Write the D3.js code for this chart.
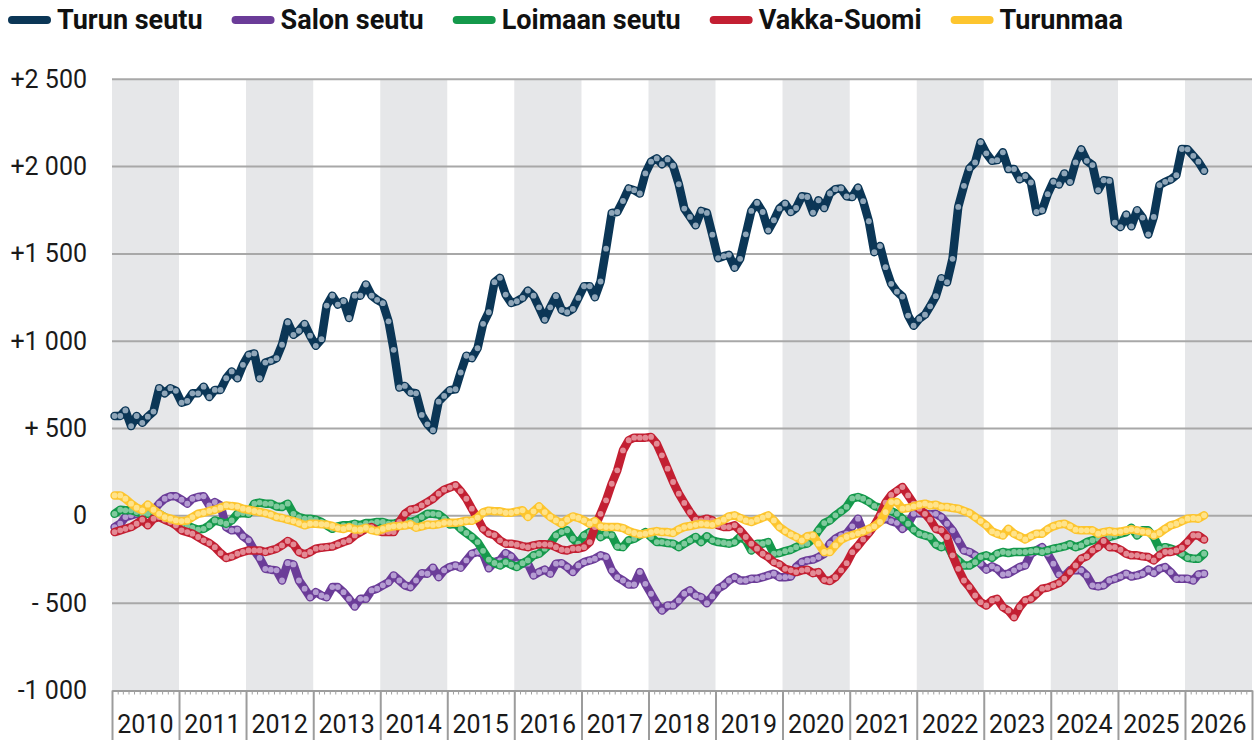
<!DOCTYPE html>
<html>
<head>
  <meta charset="UTF-8">
  <title>Väestönmuutos seuduittain</title>
  <style>
    body { margin: 0; background: #fff; }
    svg { display: block; font-family: Roboto, 'Noto Sans', sans-serif; }
  </style>
</head>
<body>
  <script src="https://cdn.jsdelivr.net/npm/d3@7"></script>
  <script>
    const width = 1258,
      height = 740

    // tick labels
    const yearLabels = ['2010', '2011', '2012', '2013', '2014', '2015', '2016', '2017', '2018',
      '2019', '2020', '2021', '2022', '2023', '2024', '2025', '2026']
    const yTicks = [-1000, -500, 0, 500, 1000, 1500, 2000, 2500]
    const yTickLabels = ['-1 000', '- 500', '0', '+ 500', '+1 000', '+1 500', '+2 000', '+2 500']

    // monthly values, 2010-01 .. 2026-04
    const turunSeutu = [
      572, 572, 604, 514, 572, 533, 568, 597, 731, 702, 731, 716,
      648, 658, 702, 702, 740, 681, 721, 721, 788, 827, 788, 865,
      922, 930, 788, 878, 888, 903, 980, 1108, 1037, 1060, 1099, 1032,
      974, 1012, 1204, 1261, 1210, 1229, 1133, 1261, 1261, 1325, 1261, 1237,
      1218, 1114, 951, 735, 744, 706, 702, 578, 524, 491, 654, 687,
      720, 725, 821, 917, 903, 960, 1100, 1166, 1338, 1363, 1267, 1219,
      1229, 1248, 1290, 1261, 1194, 1124, 1194, 1258, 1179, 1166, 1185, 1248,
      1315, 1315, 1252, 1342, 1530, 1735, 1740, 1803, 1875, 1865, 1846, 1961,
      2028, 2047, 2014, 2041, 2005, 1899, 1760, 1712, 1664, 1746, 1735, 1610,
      1476, 1487, 1495, 1421, 1472, 1612, 1746, 1792, 1740, 1635, 1693, 1760,
      1788, 1740, 1763, 1830, 1826, 1737, 1807, 1763, 1846, 1871, 1875, 1830,
      1826, 1880, 1802, 1687, 1510, 1545, 1424, 1329, 1284, 1256, 1147, 1089,
      1128, 1152, 1200, 1258, 1361, 1338, 1472, 1769, 1890, 1990, 2024, 2139,
      2076, 2033, 2037, 2082, 1986, 1986, 1928, 1945, 1909, 1740, 1750, 1842,
      1913, 1898, 1961, 1913, 2024, 2099, 2033, 2009, 1865, 1922, 1918, 1679,
      1654, 1725, 1658, 1750, 1708, 1612, 1712, 1894, 1913, 1926, 1951, 2101,
      2099, 2062, 2028, 1976
    ]
    const salonSeutu = [
      -64, -45, -7, 3, 12, 12, 22, 32, 70, 98, 112, 112,
      93, 70, 98, 108, 112, 60, 79, 60, -64, -83, -79, -117,
      -140, -198, -241, -303, -308, -312, -370, -271, -278, -370, -417, -466,
      -437, -456, -466, -408, -408, -437, -475, -519, -475, -475, -427, -417,
      -398, -380, -341, -370, -398, -408, -370, -328, -331, -297, -351, -312,
      -293, -284, -297, -255, -217, -207, -217, -300, -265, -255, -213, -232,
      -274, -271, -274, -341, -322, -308, -331, -274, -271, -293, -322, -284,
      -265, -255, -245, -226, -236, -312, -351, -370, -393, -393, -322, -389,
      -446, -503, -542, -513, -513, -484, -446, -427, -456, -466, -500, -461,
      -417, -398, -370, -351, -370, -370, -360, -360, -351, -341, -331, -351,
      -351, -347, -293, -265, -255, -250, -236, -217, -159, -131, -112, -102,
      -60, -16, -90, -95, -55, -30, -15, -30, -40, -74, -45, 12,
      16, 12, 8, 12, -7, -45, -83, -140, -198, -207, -226, -274,
      -308, -289, -303, -335, -331, -312, -293, -284, -217, -198, -179, -217,
      -274, -335, -347, -312, -312, -312, -341, -398, -404, -398, -370, -360,
      -347, -331, -347, -341, -331, -308, -327, -303, -293, -322, -360, -360,
      -360, -370, -335, -331
    ]
    const loimaanSeutu = [
      12, 35, 32, 32, 22, 12, 12, 22, 12, -7, -35, -45,
      -49, -54, -68, -79, -74, -54, -26, -35, -45, -26, 12, 16,
      12, 70, 76, 70, 70, 54, 51, 70, 12, -7, -16, -16,
      -22, -35, -54, -74, -60, -54, -54, -45, -54, -41, -41, -35,
      -35, -45, -45, -35, -26, -35, -26, -7, 12, 12, 8, -16,
      -49, -45, -74, -98, -121, -150, -200, -250, -270, -284, -265, -280,
      -293, -271, -255, -226, -217, -188, -159, -112, -93, -83, -131, -159,
      -112, -93, -74, -121, -102, -112, -175, -179, -140, -131, -112, -93,
      -121, -150, -150, -156, -159, -179, -159, -140, -121, -150, -117, -140,
      -150, -154, -159, -150, -121, -140, -198, -159, -159, -150, -217, -213,
      -202, -194, -179, -165, -159, -131, -83, -41, -26, 3, 26, 51,
      100, 108, 98, 80, 57, 46, 36, 28, 12, -16, -45, -79,
      -102, -112, -121, -163, -179, -163, -226, -255, -284, -284, -265, -236,
      -226, -240, -217, -207, -213, -207, -207, -207, -202, -198, -207, -198,
      -188, -182, -175, -163, -179, -169, -150, -140, -131, -131, -121, -112,
      -102, -93, -68, -112, -83, -83, -121, -188, -179, -188, -198, -217,
      -240, -245, -245, -217
    ]
    const vakkaSuomi = [
      -93, -83, -74, -64, -45, -22, -54, -16, -7, -22, -35, -54,
      -83, -93, -102, -121, -140, -156, -179, -213, -241, -232, -217, -207,
      -198, -198, -198, -207, -198, -188, -169, -144, -163, -207, -221, -207,
      -188, -182, -179, -175, -163, -150, -140, -112, -93, -74, -64, -83,
      -93, -93, -93, -35, 12, 35, 41, 60, 79, 98, 127, 150,
      162, 175, 142, 98, 41, -16, -74, -100, -110, -140, -159, -159,
      -165, -173, -179, -169, -163, -163, -165, -179, -194, -198, -188, -188,
      -179, -150, -64, 12, 89, 184, 261, 375, 433, 448, 448, 448,
      452, 413, 347, 270, 194, 127, 74, 22, -22, -26, -16, -26,
      -54, -64, -64, -54, -83, -121, -159, -188, -217, -236, -265, -278,
      -303, -312, -322, -312, -308, -328, -322, -366, -373, -351, -312, -271,
      -208, -172, -135, -98, -55, 3, 75, 120, 143, 165, 117, 70,
      41, 12, -22, -74, -83, -121, -226, -303, -370, -408, -456, -494,
      -513, -484, -475, -523, -542, -580, -523, -484, -475, -446, -417, -411,
      -398, -385, -360, -322, -284, -245, -232, -198, -179, -144, -179, -179,
      -194, -217, -226, -226, -232, -236, -255, -226, -207, -207, -198, -182,
      -150, -112, -112, -135
    ]
    const turunmaa = [
      117, 117, 98, 70, 47, 32, 64, 35, 12, -7, -16, -26,
      -30, -26, -7, 12, 18, 28, 35, 47, 60, 56, 53, 41,
      35, 28, 22, 16, 7, -7, -12, -22, -30, -41, -54, -45,
      -45, -48, -50, -58, -70, -75, -65, -78, -78, -68, -82, -88,
      -75, -65, -60, -58, -55, -48, -68, -60, -50, -52, -48, -40,
      -40, -40, -35, -28, -28, -10, 20, 30, 26, 26, 18, 18,
      26, 32, -6, 26, 54, 22, -6, -26, -45, -22, -3, -12,
      -26, -45, -30, -60, -64, -64, -64, -70, -87, -98, -106, -102,
      -93, -87, -93, -93, -98, -77, -64, -58, -51, -45, -48, -51,
      -35, -22, -3, 3, -12, -26, -35, -22, -10, 3, -26, -64,
      -87, -106, -121, -140, -117, -112, -159, -207, -207, -169, -137, -121,
      -110, -100, -90, -75, -60, -35, 22, 79, 79, 41, 45, 54,
      64, 70, 60, 64, 51, 51, 45, 41, 28, 16, -7, -30,
      -54, -89, -102, -112, -74, -102, -117, -135, -116, -102, -102, -77,
      -60, -49, -45, -60, -79, -83, -83, -83, -102, -93, -87, -93,
      -90, -83, -77, -83, -90, -93, -112, -98, -74, -54, -45, -30,
      -16, -13, -16, 3
    ]

    const seriesNames = ['Turun seutu', 'Salon seutu', 'Loimaan seutu', 'Vakka-Suomi', 'Turunmaa']
    const seriesValues = [turunSeutu, salonSeutu, loimaanSeutu, vakkaSuomi, turunmaa]
    const lineColors = ['#0b3656', '#6b3c98', '#14994b', '#c31f32', '#fdc52e']
    const dotColors = ['#8fa6b9', '#b59dd2', '#7fca9d', '#e38b95', '#ffe38a']

    const series = seriesNames.map((name, k) => ({
      name,
      line: lineColors[k],
      dot: dotColors[k],
      values: seriesValues[k].map((v, i) => ({ date: new Date(2010, i, 15), value: v }))
    }))

    const plotTop = 79.3,
      plotBottom = 690.5,
      plotLeft = 112,
      plotRight = 1252

    const svg = d3.select('body')
      .append('svg')
      .attr('width', width)
      .attr('height', height)

    const x = d3.scaleTime()
      .domain([new Date(2010, 0, 1), new Date(2027, 0, 1)])
      .range([plotLeft, plotRight])

    const y = d3.scaleLinear()
      .domain([-1000, 2500])
      .range([plotBottom, plotTop])

    // grey bands for every other year
    svg.append('g')
      .selectAll('rect')
      .data(yearLabels.filter((d, i) => i % 2 === 0))
      .enter()
      .append('rect')
      .attr('x', d => x(new Date(+d, 0, 1)))
      .attr('width', d => x(new Date(+d + 1, 0, 1)) - x(new Date(+d, 0, 1)))
      .attr('y', plotTop)
      .attr('height', plotBottom - plotTop)
      .attr('fill', '#e6e7e9')

    // horizontal grid
    svg.append('g')
      .selectAll('line')
      .data(yTicks.filter(d => d > -1000))
      .enter()
      .append('line')
      .attr('x1', plotLeft)
      .attr('x2', plotRight)
      .attr('y1', d => y(d))
      .attr('y2', d => y(d))
      .attr('stroke', '#a8a8a8')
      .attr('stroke-width', 2)

    // y labels
    const yAxis = svg.append('g')
      .attr('transform', 'translate(87,0)')
      .call(d3.axisLeft(y)
        .tickValues(yTicks)
        .tickFormat((d, i) => yTickLabels[i])
        .tickSize(0)
        .tickPadding(0))
    yAxis.select('.domain').remove()
    yAxis.selectAll('text')
      .attr('font-size', 25)
      .attr('font-family', 'Roboto, sans-serif')
      .attr('fill', '#1a1a1a')

    // x axis: month ticks, year separators, labels
    const monthAxis = svg.append('g')
      .attr('transform', `translate(0,${plotBottom})`)
      .call(d3.axisBottom(x)
        .ticks(d3.timeMonth.every(1))
        .tickSize(4)
        .tickSizeOuter(0)
        .tickFormat(''))
    monthAxis.select('.domain').attr('stroke', '#9c9c9c').attr('stroke-width', 2)
    monthAxis.selectAll('.tick line').attr('stroke', '#a0a0a0')

    const yearAxis = svg.append('g')
      .attr('transform', `translate(0,${plotBottom})`)
      .call(d3.axisBottom(x)
        .ticks(d3.timeYear.every(1))
        .tickSize(50)
        .tickSizeOuter(0)
        .tickFormat(''))
    yearAxis.select('.domain').remove()
    yearAxis.selectAll('.tick line').attr('stroke', '#9c9c9c').attr('stroke-width', 2)

    svg.append('g')
      .selectAll('text')
      .data(yearLabels)
      .enter()
      .append('text')
      .attr('x', d => x(new Date(+d, 6, 2)))
      .attr('y', 724)
      .attr('dy', '0.35em')
      .attr('text-anchor', 'middle')
      .attr('font-size', 25)
      .attr('fill', '#1a1a1a')
      .text(d => d)

    // lines + dots
    const line = d3.line()
      .x(d => x(d.date))
      .y(d => y(d.value))

    series.forEach(s => {
      const g = svg.append('g')
      g.append('path')
        .datum(s.values)
        .attr('d', line)
        .attr('fill', 'none')
        .attr('stroke', s.line)
        .attr('stroke-width', 8.5)
        .attr('stroke-linejoin', 'round')
        .attr('stroke-linecap', 'round')
      g.selectAll('circle')
        .data(s.values)
        .enter()
        .append('circle')
        .attr('cx', d => x(d.date))
        .attr('cy', d => y(d.value))
        .attr('r', 2.9)
        .attr('fill', s.dot)
    })

    // legend
    const legend = svg.append('g')
    let lx = 8
    series.forEach(s => {
      legend.append('line')
        .attr('x1', lx + 4)
        .attr('x2', lx + 39)
        .attr('y1', 20)
        .attr('y2', 20)
        .attr('stroke', s.line)
        .attr('stroke-width', 8)
        .attr('stroke-linecap', 'round')
      const t = legend.append('text')
        .attr('x', lx + 49)
        .attr('y', 20)
        .attr('dy', '0.35em')
        .attr('font-size', 27)
        .attr('font-weight', 700)
        .attr('fill', '#111')
        .text(s.name)
      lx += 49 + t.node().getComputedTextLength() + 29
    })
  </script>
</body>
</html>
